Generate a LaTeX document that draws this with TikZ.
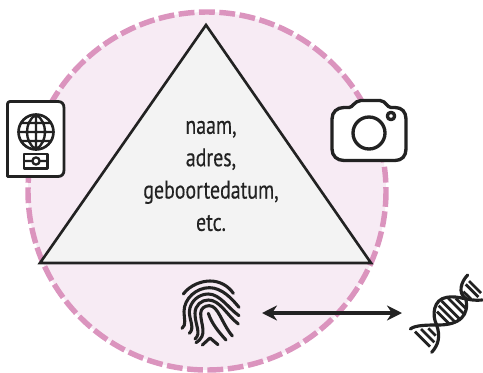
\documentclass[tikz,border=0pt]{standalone}
\usepackage{fontspec}
\usepackage{tikz}
\usetikzlibrary{arrows.meta}
\newfontfamily\lblfont[FakeStretch=0.78,FakeBold=0.35]{PT Sans}
\definecolor{ringfill}{RGB}{247,235,244}
\definecolor{ringdash}{RGB}{219,148,190}
\definecolor{trifill}{RGB}{243,243,243}
\definecolor{inkdark}{RGB}{34,34,34}
\tikzset{
  ring/.style={draw=ringdash, fill=ringfill, line width=3.1pt, dash pattern=on 9pt off 2.6pt},
  tri/.style={draw=inkdark, fill=trifill, line width=1.5pt, line join=miter},
  lbl/.style={font=\lblfont\fontsize{14.5}{18.4}\selectfont, text=inkdark, align=center, inner sep=0pt},
  icn/.style={draw=inkdark, line width=1.9pt, line cap=round, line join=round},
  fing/.style={draw=inkdark, line width=1.75pt, line cap=round, line join=round},
  dna/.style={draw=inkdark, line width=1.8pt, line cap=round},
  rung/.style={draw=inkdark, line width=1.6pt},
  both/.style={{Stealth[length=3mm,width=3mm]}-{Stealth[length=3mm,width=3mm]}, draw=inkdark, line width=2.5pt},
}
\begin{document}
\begin{tikzpicture}[x=0.02cm,y=-0.02cm]
  \useasboundingbox (0,0) rectangle (483,372);
  % ring and triangle
  \draw[ring] (207,191) circle (179);
  \coordinate (top) at (206,25);
  \coordinate (lft) at (40,263);
  \coordinate (rgt) at (371,263);
  \draw[tri] (top) -- (lft) -- (rgt) -- cycle;
  \node[lbl] (info) at (211,176) {naam,\\adres,\\geboortedatum,\\etc.};
  % passport
  \draw[icn, fill=white, line width=1.6pt] (10,101.5) -- (58,101.5) .. controls (62,101.5) and (64,104) .. (64,108)
    -- (64,170) .. controls (64,174) and (62,176.5) .. (58,176.5) -- (7.5,176.5) -- (7.5,104) .. controls (7.5,102.5) and (8.5,101.5) .. (10,101.5);
  \draw[icn, line width=1.5pt] (36,132) circle (17.5);
  \draw[icn, line width=1.35pt] (36,114.5) -- (36,149.5) (18.5,132) -- (53.5,132)
    (21,123) -- (51,123) (21,141) -- (51,141)
    (36,114.5) .. controls (24,122) and (24,142) .. (36,149.5)
    (36,114.5) .. controls (48,122) and (48,142) .. (36,149.5);
  \draw[icn, line width=1.5pt] (24,154) rectangle (47.5,168.5);
  \draw[icn, line width=1.3pt] (36,161) circle (3.6) (24,161) -- (32,161) (40,161) -- (47.5,161);
  % camera
  \draw[icn, fill=white] (344,107.5) -- (349,107.5) .. controls (353,107.5) and (354,101) .. (361,100.5)
    -- (380,100.5) .. controls (386,101) and (387,107.5) .. (391,107.5) -- (395,107.5)
    .. controls (402,107.5) and (406,112) .. (406,119) -- (406,149) .. controls (406,156) and (402,160.5) .. (395,160.5)
    -- (344,160.5) .. controls (337,160.5) and (332,156) .. (332,149) -- (332,119) .. controls (332,112) and (337,107.5) .. (344,107.5) -- cycle;
  \draw[icn] (369,133) circle (16);
  \draw[icn] (391,116) circle (3.7);
  % fingerprint
  \begin{scope}[shift={(170,270)},x=0.00667cm,y=-0.00667cm]
    \draw[fing] (40,72) .. controls (60,45) and (95,33) .. (120,33) .. controls (150,33) and (175,48) .. (190,70);
    \draw[fing] (36,175) .. controls (50,165) and (42,145) .. (42,125) .. controls (42,85) and (80,53) .. (118,53) .. controls (155,53) and (185,85) .. (207,112);
    \draw[fing] (58,190) .. controls (75,175) and (58,150) .. (58,125) .. controls (60,95) and (85,72) .. (115,72) .. controls (150,72) and (175,115) .. (207,137);
    \draw[fing] (75,207) .. controls (95,190) and (75,165) .. (75,130) .. controls (75,105) and (95,90) .. (115,90) .. controls (150,90) and (170,135) .. (205,162);
    \draw[fing] (78,218) .. controls (115,195) and (92,165) .. (92,130) .. controls (92,115) and (105,107) .. (118,107) .. controls (145,107) and (155,160) .. (187,198);
    \draw[fing] (115,130) .. controls (125,160) and (145,185) .. (168,210);
    \draw[fing] (97,225) -- (120,204) -- (144,224);
  \end{scope}
  % arrow between fingerprint and dna
  \coordinate (arrL) at (262,313);
  \coordinate (arrR) at (402,313);
  \draw[both] (arrL) -- (arrR);
  % dna
  \begin{scope}[shift={(395,265)},x=0.00667cm,y=-0.00667cm]
    \draw[dna] (218,30) .. controls (198,50) and (188,85) .. (212,100) .. controls (224,150) and (195,180) .. (130,180) .. controls (100,180) and (60,180) .. (46,192);
    \draw[dna] (262,105) .. controls (220,110) and (190,90) .. (155,97) .. controls (115,103) and (110,150) .. (125,180) .. controls (137,215) and (130,240) .. (110,262);
    \foreach \xa/\ya/\xb/\yb in {140/108/198/166,131/122/182/173,126/140/164/178,160/100/206/146,182/100/212/130}
      \draw[rung] (\xa,\ya) -- (\xb,\yb);
    \foreach \xa/\ya/\xb/\yb in {212/58/250/96,222/48/258/84,205/80/228/102}
      \draw[rung] (\xa,\ya) -- (\xb,\yb);
    \foreach \xa/\ya/\xb/\yb in {60/200/105/245,78/192/118/232,100/190/122/212}
      \draw[rung] (\xa,\ya) -- (\xb,\yb);
  \end{scope}
\end{tikzpicture}
\end{document}
